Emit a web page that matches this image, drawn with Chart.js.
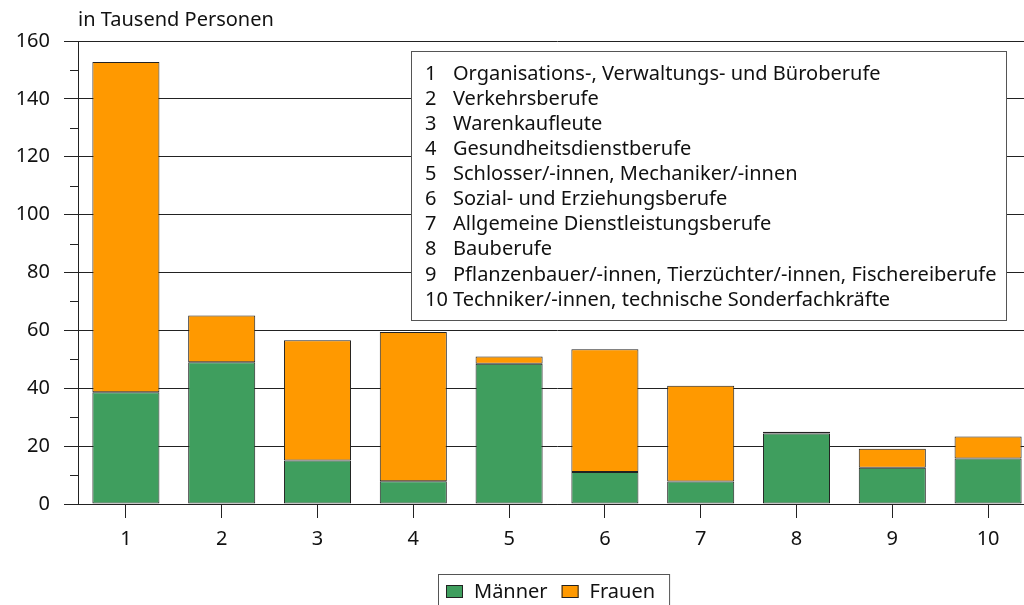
<!DOCTYPE html>
<html>
<head>
<meta charset="utf-8">
<script src="https://cdn.jsdelivr.net/npm/chart.js@4.4.1/dist/chart.umd.min.js"></script>
<style>
  html, body { margin: 0; padding: 0; background: #fff; overflow: hidden; }
  #wrap { width: 1040px; height: 605px; }
</style>
</head>
<body>
<div id="wrap"><canvas id="chart" width="1040" height="605"></canvas></div>
<script>
// Daten
const categories = ['1', '2', '3', '4', '5', '6', '7', '8', '9', '10'];
const maenner = [38.6, 49.0, 15.0, 7.9, 48.5, 11.1, 7.8, 24.4, 12.5, 15.7];
const frauen = [114.1, 16.1, 41.6, 51.5, 2.5, 42.4, 33.1, 0.6, 6.6, 7.6];
const categoryNames = [
    'Organisations-, Verwaltungs- und Büroberufe',
    'Verkehrsberufe',
    'Warenkaufleute',
    'Gesundheitsdienstberufe',
    'Schlosser/-innen, Mechaniker/-innen',
    'Sozial- und Erziehungsberufe',
    'Allgemeine Dienstleistungsberufe',
    'Bauberufe',
    'Pflanzenbauer/-innen, Tierzüchter/-innen, Fischereiberufe',
    'Techniker/-innen, technische Sonderfachkräfte'
];
const yTicks = [0, 20, 40, 60, 80, 100, 120, 140, 160];
const unitLabel = 'in Tausend Personen';

const FONT = '"Noto Sans", sans-serif';
const LINE = '#222';

// Kleine Zwischenstriche, Titel, Kategorie-Kasten, Legende
const extras = {
    id: 'extras',
    afterDraw(chart) {
        const ctx = chart.ctx;
        const area = chart.chartArea;
        const y = chart.scales.y;
        ctx.save();

        // Zwischenstriche (10, 30, ...)
        ctx.strokeStyle = LINE;
        ctx.lineWidth = 1;
        for (let v = 10; v < 160; v += 20) {
            const py = Math.round(y.getPixelForValue(v)) + 0.5;
            ctx.beginPath();
            ctx.moveTo(area.left - 8, py);
            ctx.lineTo(area.left, py);
            ctx.stroke();
        }

        // Einheit oben links
        ctx.fillStyle = '#111';
        ctx.font = '20px ' + FONT;
        ctx.textAlign = 'left';
        ctx.textBaseline = 'middle';
        ctx.fillText(unitLabel, area.left, 20);

        // Kasten mit Berufsbezeichnungen
        const bx = area.left + 333, by = area.top + 10, bw = 595, bh = 269;
        ctx.fillStyle = '#fff';
        ctx.fillRect(bx, by, bw, bh);
        ctx.strokeStyle = '#555';
        ctx.strokeRect(bx + 0.5, by + 0.5, bw, bh);
        ctx.fillStyle = '#111';
        categoryNames.forEach((name, i) => {
            const ty = by + 23 + i * 25.1;
            ctx.fillText(categories[i], bx + 14, ty);
            ctx.fillText(name, bx + 42, ty);
        });

        // Legende unten
        const sets = chart.data.datasets;
        const widths = sets.map(ds => 17 + 11 + ctx.measureText(ds.label).width);
        const total = widths.reduce((a, b) => a + b, 0) + 14 * (sets.length - 1);
        const ly = 592;
        let lx = Math.round((area.left + 1024) / 2 - total / 2);
        ctx.strokeStyle = '#555';
        ctx.strokeRect(lx - 7.5, ly - 17.5, total + 22, 40);
        sets.forEach((ds, i) => {
            ctx.fillStyle = ds.backgroundColor;
            ctx.fillRect(lx, ly - 7, 17, 13);
            ctx.strokeStyle = '#222';
            ctx.strokeRect(lx + 0.5, ly - 6.5, 16, 12);
            ctx.fillStyle = '#111';
            ctx.fillText(ds.label, lx + 28, ly);
            lx += widths[i] + 14;
        });
        ctx.restore();
    }
};

new Chart(document.getElementById('chart'), {
    type: 'bar',
    data: {
        labels: categories,
        datasets: [{
            label: 'Männer',
            data: maenner,
            backgroundColor: '#3f9e5e',
            borderColor: '#222',
            borderWidth: 1,
            borderSkipped: false
        }, {
            label: 'Frauen',
            data: frauen,
            backgroundColor: '#ff9900',
            borderColor: '#222',
            borderWidth: 1,
            borderSkipped: false
        }]
    },
    options: {
        responsive: false,
        animation: false,
        layout: { padding: { top: 41, left: 0, right: 4, bottom: 30 } },
        datasets: { bar: { barPercentage: 0.7, categoryPercentage: 1 } },
        plugins: {
            legend: { display: false },
            tooltip: { enabled: false }
        },
        scales: {
            x: {
                stacked: true,
                grid: {
                    offset: false,
                    drawOnChartArea: false,
                    tickLength: 14,
                    tickColor: LINE
                },
                border: { color: LINE },
                ticks: { color: '#111', padding: 9, font: { family: FONT, size: 20 } },
                afterFit(scale) { scale.height = 71; }
            },
            y: {
                stacked: true,
                min: 0,
                max: 160,
                afterBuildTicks(scale) {
                    scale.ticks = yTicks.map(v => ({ value: v }));
                },
                grid: {
                    color: LINE,
                    tickLength: 14,
                    tickColor: LINE
                },
                border: { color: LINE },
                ticks: { color: '#111', padding: 14, autoSkip: false, font: { family: FONT, size: 20 } },
                afterFit(scale) { scale.width = 78; }
            }
        }
    },
    plugins: [extras]
});
</script>
</body>
</html>
